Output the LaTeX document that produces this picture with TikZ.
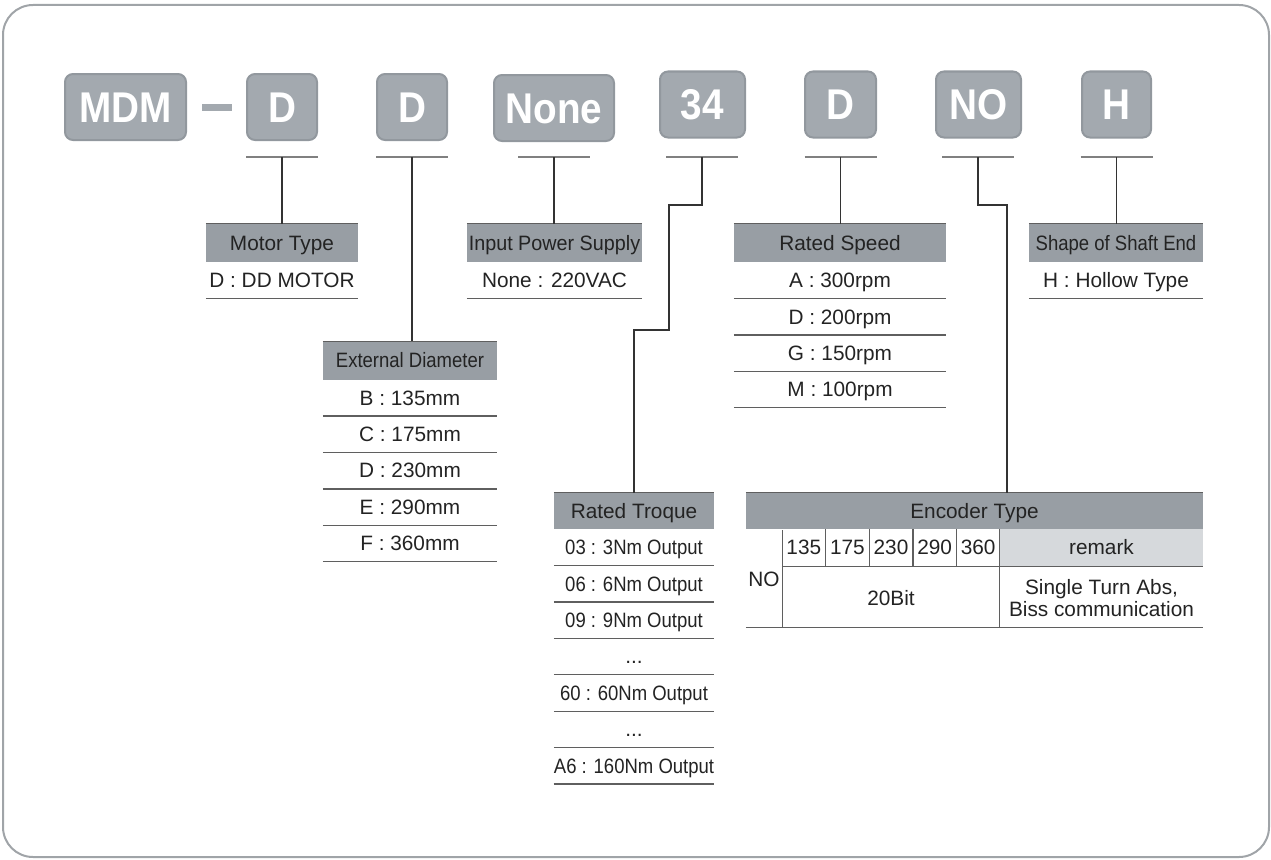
\documentclass[tikz,border=0pt]{standalone}
\usepackage{fontspec}
\setmainfont{Liberation Sans}
\newfontfamily\narrowfont{Liberation Sans}[FakeStretch=0.89]
\newfontfamily\semifont{Liberation Sans}[FakeStretch=0.95]
\newfontfamily\keyfont{Liberation Sans}[FakeStretch=0.9]
\usetikzlibrary{positioning}
\definecolor{keygray}{RGB}{163,169,175}
\definecolor{keyedge}{RGB}{146,152,158}
\definecolor{hdrgray}{RGB}{152,158,164}
\definecolor{remgray}{RGB}{214,217,220}
\definecolor{linegray}{RGB}{95,95,95}
\definecolor{ulgray}{RGB}{128,128,128}
\definecolor{framegray}{RGB}{160,164,168}
\definecolor{txt}{RGB}{35,35,35}

\begin{document}
\begin{tikzpicture}[
      x=1pt, y=-1pt,
      font=\fontsize{20.8}{24}\selectfont,
      key/.style={draw=keyedge, line width=2pt, fill=keygray, rounded corners=8pt,
                  text=white, font=\keyfont\bfseries\fontsize{43}{43}\selectfont,
                  inner sep=0pt, minimum height=66pt, text height=30.5pt, text depth=0pt},
      hdr/.style={fill=hdrgray, text=txt, inner sep=0pt, minimum height=38pt,
                  text height=14.5pt, text depth=0pt},
      row/.style={text=txt, inner sep=0pt, minimum height=36pt,
                  text height=14.5pt, text depth=0pt},
      cell/.style={text=txt, inner sep=0pt, minimum height=37pt,
                   text height=14.5pt, text depth=0pt},
      sep/.style={draw=linegray, line width=1.3pt},
      uline/.style={draw=ulgray, line width=1.6pt},
      conn/.style={draw=black!80, line width=1.1pt}
    ]
    \useasboundingbox (0,0) rectangle (1271,859);
    \draw[draw=framegray, line width=2pt, rounded corners=30pt] (3,5) rectangle (1269,857);

    % model code
    \node[key, minimum width=121pt] (kmdm)  at (125.5,107)  {MDM};
    \node[fill=keygray, inner sep=0pt, minimum width=30pt, minimum height=7pt] (dash) at (217,107) {};
    \node[key, minimum width=70pt]  (kd1)   at (282,107)    {D};
    \node[key, minimum width=70pt]  (kd2)   at (412,107)    {D};
    \node[key, minimum width=120pt] (knone) at (554,108)    {None};
    \node[key, minimum width=85pt]  (k34)   at (702.5,104.5) {34};
    \node[key, minimum width=71pt]  (kd3)   at (840.5,104.5) {D};
    \node[key, minimum width=85pt]  (kno)   at (978.5,104.5) {NO};
    \node[key, minimum width=69pt]  (kh)    at (1116.5,104.5) {H};

    \coordinate (u1) at (282,157);
    \coordinate (u2) at (412,157);
    \coordinate (u3) at (554,157);
    \coordinate (u4) at (702,157);
    \coordinate (u5) at (840.5,157);
    \coordinate (u6) at (978,157);
    \coordinate (u7) at (1116.5,157);
    \foreach \u in {u1,u2,u3,u4,u5,u6,u7}
      \draw[uline] ([xshift=-36pt]\u) -- ([xshift=36pt]\u);

    % option tables
    \node[hdr, minimum width=152pt] (hmt) at (282,243) {Motor Type};
    \node[row, minimum width=152pt, below=0pt of hmt] (mt1) {D : DD MOTOR};

    \node[hdr, minimum width=175pt] (hps) at (554.5,243) {\semifont Input Power Supply};
    \node[row, minimum width=175pt, below=0pt of hps] (ps1) {None : 220VAC};

    \node[hdr, minimum width=174pt] (hed) at (410,360.5) {\narrowfont External Diameter};
    \node[row, minimum width=174pt, below=0pt of hed] (ed1) {B : 135mm};
    \node[row, minimum width=174pt, below=0pt of ed1] (ed2) {C : 175mm};
    \node[row, minimum width=174pt, below=0pt of ed2] (ed3) {D : 230mm};
    \node[row, minimum width=174pt, below=0pt of ed3] (ed4) {E : 290mm};
    \node[row, minimum width=174pt, below=0pt of ed4] (ed5) {F : 360mm};

    \node[hdr, minimum width=160pt, minimum height=36pt] (hrt) at (634,511) {Rated Troque};
    \node[row, minimum width=160pt, below=0pt of hrt] (rt1) {\narrowfont 03 : 3Nm Output};
    \node[row, minimum width=160pt, below=0pt of rt1] (rt2) {\narrowfont 06 : 6Nm Output};
    \node[row, minimum width=160pt, below=0pt of rt2] (rt3) {\narrowfont 09 : 9Nm Output};
    \node[row, minimum width=160pt, below=0pt of rt3] (rt4) {...};
    \node[row, minimum width=160pt, below=0pt of rt4] (rt5) {\narrowfont 60 : 60Nm Output};
    \node[row, minimum width=160pt, below=0pt of rt5] (rt6) {...};
    \node[row, minimum width=160pt, below=0pt of rt6] (rt7) {\narrowfont A6 : 160Nm Output};

    \node[hdr, minimum width=212pt] (hrs) at (840,243) {Rated Speed};
    \node[row, minimum width=212pt, below=0pt of hrs] (rs1) {A : 300rpm};
    \node[row, minimum width=212pt, below=0pt of rs1] (rs2) {D : 200rpm};
    \node[row, minimum width=212pt, below=0pt of rs2] (rs3) {G : 150rpm};
    \node[row, minimum width=212pt, below=0pt of rs3] (rs4) {M : 100rpm};

    \node[hdr, minimum width=174pt] (hse) at (1116,243) {\narrowfont Shape of Shaft End};
    \node[row, minimum width=174pt, below=0pt of hse] (se1) {H : Hollow Type};

    % encoder table
    \node[hdr, minimum width=457pt, minimum height=36pt] (henc) at (974.5,511) {Encoder Type};
    \node[cell, minimum width=36pt, minimum height=97pt] (eno) at (764,579) {NO};
    \foreach \v [count=\i] in {135,175,230,290,360}
      \node[cell, minimum width=43.6pt] (c\i) at ({782+43.6*(\i-0.5)},547.5) {\v};
    \node[cell, fill=remgray, minimum width=203pt] (rem) at (1101.5,547.5) {remark};
    \node[cell, minimum width=218pt, minimum height=60pt] (bits) at (891,598) {20Bit};
    \node[text=txt, inner sep=0pt, minimum width=203pt, minimum height=60pt, align=center,
          font=\fontsize{20.8}{21.5}\selectfont] (abs) at (1101.5,598) {Single Turn Abs,\\Biss communication};

    \foreach \n in {hmt,hps,hed,hrt,hrs,hse,henc}
      \draw[sep] (\n.north west) -- (\n.north east);
    \foreach \p/\k in {mt/1,ps/1,ed/5,rt/7,rs/4,se/1}
      \foreach \i in {1,...,\k}
        \draw[sep] (\p\i.south west) -- (\p\i.south east);
    \draw[sep] (c1.south west) -- (rem.south east);
    \draw[sep] (eno.south west) -- (eno.south -| abs.east);
    \draw[sep] (eno.north east) -- (eno.south east);
    \draw[sep] (rem.north west) -- (rem.north west |- eno.south);
    \foreach \i in {1,...,4}
      \draw[sep] (c\i.north east) -- (c\i.south east);

    % connectors
    \draw[conn] (u1) -- (hmt.north);
    \draw[conn] (u2) -- (u2 |- hed.north);
    \draw[conn] (u3) -- (u3 |- hps.north);
    \draw[conn] (u4) -- ++(0,48) -- ++(-33,0) -- ++(0,125) -| (hrt.north);
    \draw[conn] (u5) -- (u5 |- hrs.north);
    \draw[conn] (u6) -- ++(0,48) -| ([xshift=32.5pt]henc.north);
    \draw[conn] (u7) -- (u7 |- hse.north);
  \end{tikzpicture}
\end{document}
